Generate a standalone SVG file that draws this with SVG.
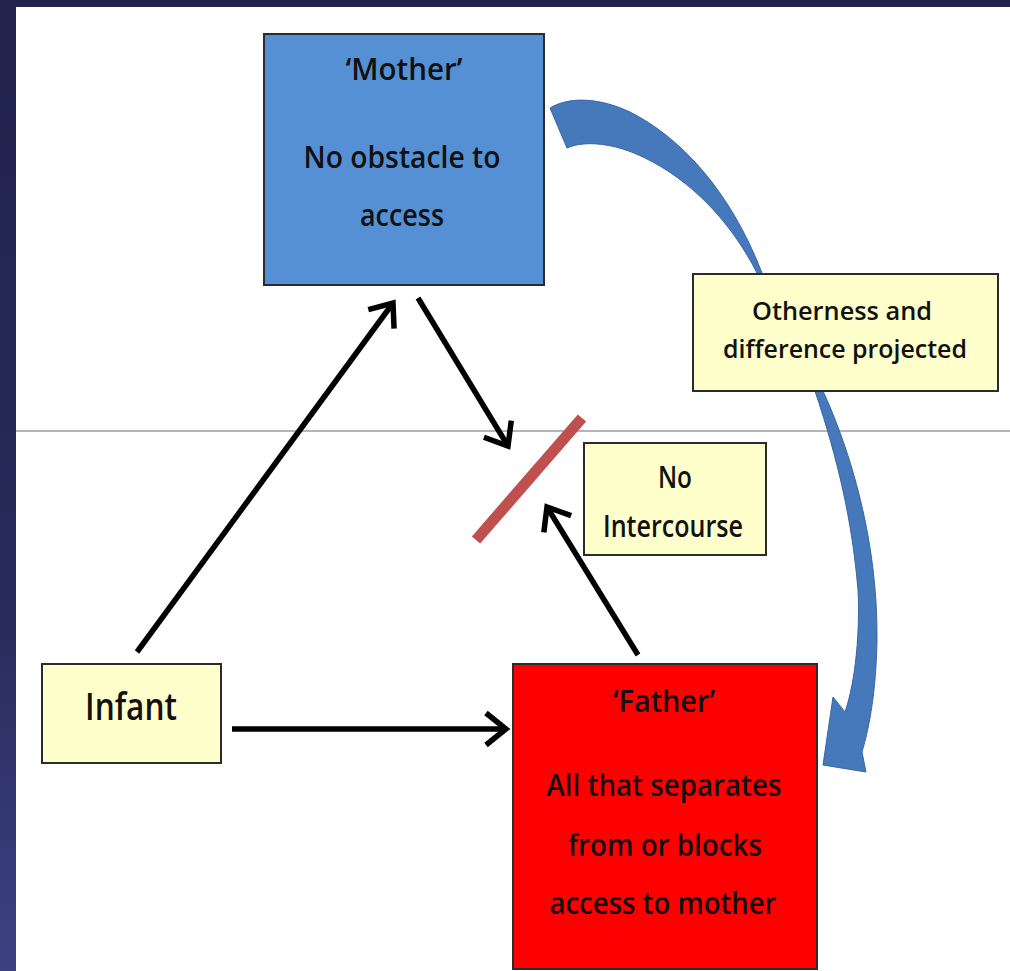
<svg xmlns="http://www.w3.org/2000/svg" width="1010" height="971" viewBox="0 0 1010 971">
  <defs>
    <linearGradient id="sideBand" x1="0" y1="0" x2="0" y2="1">
      <stop offset="0" stop-color="#22244d"/>
      <stop offset="0.6" stop-color="#262a58"/>
      <stop offset="1" stop-color="#3d4182"/>
    </linearGradient>
    <marker id="chevron" markerUnits="userSpaceOnUse" viewBox="-30 -20 36 40" refX="0" refY="0" markerWidth="36" markerHeight="40" orient="auto">
      <path d="M-20,-16 L0,0 L-20,16" fill="none" stroke="#000" stroke-width="5.5" stroke-linejoin="miter"/>
    </marker>
    <style>
      .box { stroke: #2b2b2b; stroke-width: 2; }
      .note { fill: #ffffcc; }
      .lbl { font-family: "Open Sans", "Liberation Sans", sans-serif; font-weight: 600; fill: #111; text-anchor: middle; }
      .link { stroke: #000; stroke-width: 5.5; fill: none; marker-end: url(#chevron); }
    </style>
  </defs>

  <!-- page frame -->
  <rect x="0" y="0" width="1010" height="971" fill="#ffffff"/>
  <rect x="0" y="0" width="1010" height="7" fill="#22244d"/>
  <rect x="0" y="0" width="16" height="971" fill="url(#sideBand)"/>
  <line x1="16" y1="431" x2="1010" y2="431" stroke="#9c9aa8" stroke-width="1.5"/>

  <!-- curved projection arrow -->
  <g id="projection-arrow">
    <path d="M550,108 C570,96 600,98 630,112 C680,137 730,190 762,273 L823,391 C850,450 878,540 877,640 C876,690 870,725 862,752 L866,772 L823,765 L833,697 L845,712 C856,680 860,630 858,590 C852,520 838,460 815,391 L757,273 C730,220 690,180 645,158 C615,143 585,140 567,148 Z" fill="#4679bb" stroke="#3a66a2" stroke-width="1"/>
  </g>

  <!-- bar -->
  <g id="no-intercourse-bar">
    <line x1="476" y1="540" x2="582" y2="418" stroke="#c0504d" stroke-width="11"/>
  </g>

  <!-- connectors -->
  <g id="connectors">
    <line class="link" x1="137" y1="652" x2="393" y2="303"/>
    <line class="link" x1="418" y1="298" x2="508" y2="446"/>
    <line class="link" x1="638" y1="655" x2="547" y2="507"/>
    <line class="link" x1="232" y1="729" x2="506" y2="729"/>
  </g>

  <g id="mother">
    <rect class="box" x="264" y="34" width="280" height="251" fill="#5590d5"/>
    <text class="lbl" x="404" y="80" font-size="31" textLength="117" lengthAdjust="spacingAndGlyphs">‘Mother’</text>
    <text class="lbl" x="402" y="168" font-size="31" textLength="197" lengthAdjust="spacingAndGlyphs">No obstacle to</text>
    <text class="lbl" x="402" y="226" font-size="31" textLength="84" lengthAdjust="spacingAndGlyphs">access</text>
  </g>

  <g id="otherness">
    <rect class="box note" x="693" y="274" width="305" height="117"/>
    <text class="lbl" x="842" y="320" font-size="26" textLength="180" lengthAdjust="spacingAndGlyphs">Otherness and</text>
    <text class="lbl" x="845" y="358" font-size="26" textLength="244" lengthAdjust="spacingAndGlyphs">difference projected</text>
  </g>

  <g id="no-intercourse">
    <rect class="box note" x="584" y="443" width="182" height="112"/>
    <text class="lbl" x="675" y="488" font-size="30" textLength="34" lengthAdjust="spacingAndGlyphs">No</text>
    <text class="lbl" x="673" y="537" font-size="30" textLength="140" lengthAdjust="spacingAndGlyphs">Intercourse</text>
  </g>

  <g id="infant">
    <rect class="box note" x="42" y="664" width="179" height="99"/>
    <text class="lbl" x="131" y="720" font-size="38" textLength="92" lengthAdjust="spacingAndGlyphs">Infant</text>
  </g>

  <g id="father">
    <rect class="box" x="513" y="664" width="304" height="305" fill="#ff0000"/>
    <text class="lbl" x="664" y="712" font-size="30" textLength="102" lengthAdjust="spacingAndGlyphs">‘Father’</text>
    <text class="lbl" x="664" y="796" font-size="31" textLength="235" lengthAdjust="spacingAndGlyphs">All that separates</text>
    <text class="lbl" x="665" y="856" font-size="31" textLength="194" lengthAdjust="spacingAndGlyphs">from or blocks</text>
    <text class="lbl" x="663" y="914" font-size="31" textLength="227" lengthAdjust="spacingAndGlyphs">access to mother</text>
  </g>
</svg>
